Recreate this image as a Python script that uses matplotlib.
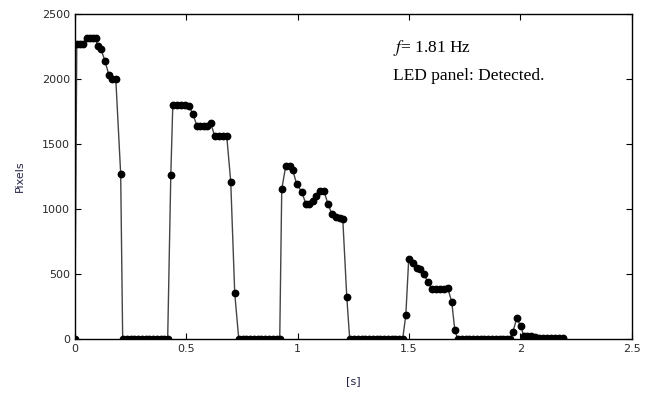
import matplotlib
matplotlib.use("Agg")
import matplotlib.pyplot as plt

# time stamps [s] and detected pixel counts
t = [0.000, 0.009, 0.022, 0.036, 0.054, 0.067, 0.081, 0.094, 0.103, 0.117,
     0.135, 0.153, 0.166, 0.184, 0.206, 0.215,
     0.233, 0.251, 0.265, 0.283, 0.301, 0.319, 0.332, 0.350, 0.368, 0.386, 0.399, 0.417,
     0.431, 0.440, 0.458, 0.476, 0.494, 0.512, 0.530, 0.548, 0.561, 0.579, 0.592,
     0.610, 0.628, 0.646, 0.664, 0.682, 0.700, 0.718, 0.736,
     0.754, 0.767, 0.785, 0.803, 0.821, 0.835, 0.853, 0.871, 0.889, 0.907, 0.920,
     0.929, 0.947, 0.965, 0.978, 0.996, 1.019, 1.037, 1.050, 1.068, 1.082, 1.100,
     1.118, 1.136, 1.154, 1.171, 1.189, 1.203, 1.221, 1.234,
     1.252, 1.270, 1.288, 1.302, 1.320, 1.338, 1.355, 1.369, 1.387, 1.405, 1.423,
     1.436, 1.454, 1.472,
     1.486, 1.499, 1.517, 1.535, 1.548, 1.566, 1.584, 1.602, 1.620, 1.638, 1.656,
     1.674, 1.692, 1.706, 1.719,
     1.737, 1.755, 1.768, 1.786, 1.804, 1.822, 1.836, 1.854, 1.872, 1.890, 1.908,
     1.921, 1.939, 1.952,
     1.966, 1.984, 2.002, 2.015, 2.029, 2.047, 2.065, 2.083, 2.101, 2.118, 2.136,
     2.154, 2.172, 2.190]
pixels = [0, 2270, 2270, 2270, 2310, 2310, 2310, 2310, 2250, 2230,
          2140, 2030, 2000, 2000, 1270, 0,
          0, 0, 0, 0, 0, 0, 0, 0, 0, 0, 0, 0,
          1260, 1800, 1800, 1800, 1800, 1790, 1730, 1640, 1640, 1640, 1640,
          1660, 1560, 1560, 1560, 1560, 1210, 350, 0,
          0, 0, 0, 0, 0, 0, 0, 0, 0, 0, 0,
          1150, 1330, 1330, 1300, 1190, 1130, 1040, 1040, 1060, 1100, 1140,
          1140, 1040, 960, 940, 930, 920, 320, 0,
          0, 0, 0, 0, 0, 0, 0, 0, 0, 0, 0,
          0, 0, 0,
          185, 615, 585, 545, 540, 500, 440, 385, 380, 380, 380,
          390, 285, 65, 0,
          0, 0, 0, 0, 0, 0, 0, 0, 0, 0, 0,
          0, 0, 0,
          50, 160, 95, 25, 25, 20, 15, 5, 5, 5, 5,
          5, 5, 5]

plt.rcParams['font.family'] = ['DejaVu Sans']
plt.rcParams['mathtext.fontset'] = 'stix'

fig = plt.figure(figsize=(6.56, 3.94), dpi=100)
ax = fig.add_axes([0.114, 0.140, 0.849, 0.825])

ax.plot(t, pixels, color='#444444', linewidth=1.0, marker='o',
        markersize=4.6, markerfacecolor='black', markeredgecolor='black')

ax.set_xlim(0, 2.5)
ax.set_ylim(0, 2500)
ax.set_xticks([0, 0.5, 1, 1.5, 2, 2.5])
ax.set_xticklabels(['0', '0.5', '1', '1.5', '2', '2.5'])
ax.set_yticks([0, 500, 1000, 1500, 2000, 2500])
ax.tick_params(direction='in', top=True, right=True, length=4,
               labelsize=8, labelcolor='#2a2a2a', width=0.8)
for s in ax.spines.values():
    s.set_color('black')
    s.set_linewidth(1.0)

ax.set_xlabel('[s]', fontsize=8, color='#222244', labelpad=16)
ax.set_ylabel('Pixels', fontsize=8, color='#222244', labelpad=12)

ax.text(0.571, 0.895, '$f$= 1.81 Hz', transform=ax.transAxes,
        family='Liberation Serif', fontsize=12.5, va='center')
ax.text(0.571, 0.81, 'LED panel: Detected.', transform=ax.transAxes,
        family='Liberation Serif', fontsize=12.5, va='center')

fig.savefig('out.png', dpi=100)
